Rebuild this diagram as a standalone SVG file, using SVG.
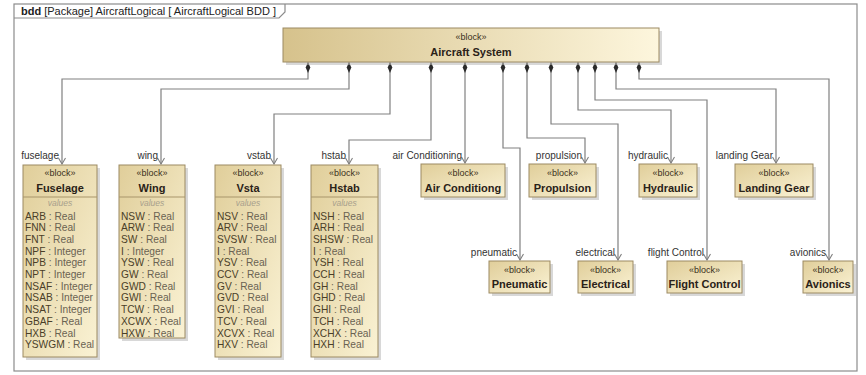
<svg xmlns="http://www.w3.org/2000/svg" width="866" height="375" viewBox="0 0 866 375">
<defs>
<linearGradient id="gTop" x1="0" y1="0" x2="1" y2="0">
<stop offset="0" stop-color="#d6c28c"/>
<stop offset="1" stop-color="#fdf6dd"/>
</linearGradient>
<linearGradient id="gBox" x1="0" y1="0" x2="1" y2="1">
<stop offset="0" stop-color="#e0ce9a"/>
<stop offset="1" stop-color="#faf2d4"/>
</linearGradient>
<marker id="dia" viewBox="-1 -3 13 6" refX="0" refY="0" markerWidth="13" markerHeight="6" markerUnits="userSpaceOnUse" orient="auto">
<path d="M0,0 L5.5,-2.3 L11,0 L5.5,2.3 z" fill="#2a2a2a"/>
</marker>
<marker id="arr" viewBox="-8 -5 9 10" refX="0" refY="0" markerWidth="9" markerHeight="10" markerUnits="userSpaceOnUse" orient="auto">
<path d="M-6,-3.5 L0,0 L-6,3.5" fill="none" stroke="#808080" stroke-width="1.1"/>
</marker>
</defs>
<style>
text{font-family:"Liberation Sans",Arial,sans-serif;}
.frame{fill:none;stroke:#8c8c8c;stroke-width:1.2;}
.title{font-size:11px;fill:#222;}
.box{fill:url(#gBox);stroke:#9c8a62;stroke-width:1;}
.top{fill:url(#gTop);stroke:#9c8a62;stroke-width:1;}
.sh{fill:#b8b8b8;opacity:0.55;}
.sep{stroke:#a8956a;stroke-width:1;}
.st{font-size:9px;fill:#3a3020;text-anchor:middle;}
.nm{font-size:11px;font-weight:bold;fill:#2a2218;text-anchor:middle;}
.vl{font-size:8.5px;fill:#a8a08c;font-style:italic;text-anchor:middle;}
.at{font-size:10.2px;fill:#6a6252;}
.an{fill:#4a3e28;}
.role{font-size:10px;fill:#333;text-anchor:end;}
.con{fill:none;stroke:#808080;stroke-width:1.2;marker-start:url(#dia);marker-end:url(#arr);}
</style>

<g id="frame">
<rect class="frame" x="14" y="4" width="843" height="367"/>
<path class="frame" d="M14,18 H279 L285,12 V4"/>
<text class="title" x="21" y="15"><tspan font-weight="bold">bdd</tspan> [Package] AircraftLogical [ AircraftLogical BDD ]</text>
</g>

<g id="connectors">
<path class="con" d="M308,62 V79 H62 V164"/>
<path class="con" d="M349,62 V89 H161 V164"/>
<path class="con" d="M390,62 V114 H274 V164"/>
<path class="con" d="M431,62 V140 H349 V164"/>
<path class="con" d="M465,62 V163"/>
<path class="con" d="M503,62 V148 H520 V260"/>
<path class="con" d="M527,62 V138 H585 V163"/>
<path class="con" d="M551,62 V124 H618 V260"/>
<path class="con" d="M578,62 V110 H671 V163"/>
<path class="con" d="M595,62 V100 H707 V260"/>
<path class="con" d="M616,62 V89 H776 V163"/>
<path class="con" d="M639,62 V79 H829 V260"/>
<text class="role" x="59" y="159">fuselage</text>
<text class="role" x="158" y="159">wing</text>
<text class="role" x="271" y="159">vstab</text>
<text class="role" x="346" y="159">hstab</text>
<text class="role" x="462" y="159">air Conditioning</text>
<text class="role" x="582" y="159">propulsion</text>
<text class="role" x="668" y="159">hydraulic</text>
<text class="role" x="773" y="159">landing Gear</text>
<text class="role" x="517" y="256">pneumatic</text>
<text class="role" x="615" y="256">electrical</text>
<text class="role" x="704" y="256">flight Control</text>
<text class="role" x="826" y="256">avionics</text>
</g>

<g id="aircraft-system">
<rect class="sh" x="286" y="31" width="376" height="34"/>
<rect class="top" x="283" y="28" width="376" height="34"/>
<text class="st" x="471" y="40">«block»</text>
<text class="nm" x="471" y="56">Aircraft System</text>
</g>

<g id="fuselage">
<rect class="sh" x="26" y="168" width="74" height="192"/>
<rect class="box" x="23" y="165" width="74" height="192"/>
<line class="sep" x1="23" y1="197" x2="97" y2="197"/>
<text class="st" x="60" y="176">«block»</text>
<text class="nm" x="60" y="192">Fuselage</text>
<text class="vl" x="60" y="206">values</text>
<text class="at" x="25" y="219.5"><tspan class="an">ARB</tspan> : Real</text>
<text class="at" x="25" y="231.2"><tspan class="an">FNN</tspan> : Real</text>
<text class="at" x="25" y="242.9"><tspan class="an">FNT</tspan> : Real</text>
<text class="at" x="25" y="254.6"><tspan class="an">NPF</tspan> : Integer</text>
<text class="at" x="25" y="266.3"><tspan class="an">NPB</tspan> : Integer</text>
<text class="at" x="25" y="278"><tspan class="an">NPT</tspan> : Integer</text>
<text class="at" x="25" y="289.7"><tspan class="an">NSAF</tspan> : Integer</text>
<text class="at" x="25" y="301.4"><tspan class="an">NSAB</tspan> : Integer</text>
<text class="at" x="25" y="313.1"><tspan class="an">NSAT</tspan> : Integer</text>
<text class="at" x="25" y="324.8"><tspan class="an">GBAF</tspan> : Real</text>
<text class="at" x="25" y="336.5"><tspan class="an">HXB</tspan> : Real</text>
<text class="at" x="25" y="348.2"><tspan class="an">YSWGM</tspan> : Real</text>
</g>

<g id="wing">
<rect class="sh" x="122" y="168" width="66" height="173"/>
<rect class="box" x="119" y="165" width="66" height="173"/>
<line class="sep" x1="119" y1="197" x2="185" y2="197"/>
<text class="st" x="152" y="176">«block»</text>
<text class="nm" x="152" y="192">Wing</text>
<text class="vl" x="152" y="206">values</text>
<text class="at" x="121" y="219.5"><tspan class="an">NSW</tspan> : Real</text>
<text class="at" x="121" y="231.2"><tspan class="an">ARW</tspan> : Real</text>
<text class="at" x="121" y="242.9"><tspan class="an">SW</tspan> : Real</text>
<text class="at" x="121" y="254.6"><tspan class="an">I</tspan> : Integer</text>
<text class="at" x="121" y="266.3"><tspan class="an">YSW</tspan> : Real</text>
<text class="at" x="121" y="278"><tspan class="an">GW</tspan> : Real</text>
<text class="at" x="121" y="289.7"><tspan class="an">GWD</tspan> : Real</text>
<text class="at" x="121" y="301.4"><tspan class="an">GWI</tspan> : Real</text>
<text class="at" x="121" y="313.1"><tspan class="an">TCW</tspan> : Real</text>
<text class="at" x="121" y="324.8"><tspan class="an">XCWX</tspan> : Real</text>
<text class="at" x="121" y="336.5"><tspan class="an">HXW</tspan> : Real</text>
</g>

<g id="vsta">
<rect class="sh" x="218" y="168" width="66" height="192"/>
<rect class="box" x="215" y="165" width="66" height="192"/>
<line class="sep" x1="215" y1="197" x2="281" y2="197"/>
<text class="st" x="248" y="176">«block»</text>
<text class="nm" x="248" y="192">Vsta</text>
<text class="vl" x="248" y="206">values</text>
<text class="at" x="217" y="219.5"><tspan class="an">NSV</tspan> : Real</text>
<text class="at" x="217" y="231.2"><tspan class="an">ARV</tspan> : Real</text>
<text class="at" x="217" y="242.9"><tspan class="an">SVSW</tspan> : Real</text>
<text class="at" x="217" y="254.6"><tspan class="an">I</tspan> : Real</text>
<text class="at" x="217" y="266.3"><tspan class="an">YSV</tspan> : Real</text>
<text class="at" x="217" y="278"><tspan class="an">CCV</tspan> : Real</text>
<text class="at" x="217" y="289.7"><tspan class="an">GV</tspan> : Real</text>
<text class="at" x="217" y="301.4"><tspan class="an">GVD</tspan> : Real</text>
<text class="at" x="217" y="313.1"><tspan class="an">GVI</tspan> : Real</text>
<text class="at" x="217" y="324.8"><tspan class="an">TCV</tspan> : Real</text>
<text class="at" x="217" y="336.5"><tspan class="an">XCVX</tspan> : Real</text>
<text class="at" x="217" y="348.2"><tspan class="an">HXV</tspan> : Real</text>
</g>

<g id="hstab">
<rect class="sh" x="314" y="168" width="67" height="192"/>
<rect class="box" x="311" y="165" width="67" height="192"/>
<line class="sep" x1="311" y1="197" x2="378" y2="197"/>
<text class="st" x="344.5" y="176">«block»</text>
<text class="nm" x="344.5" y="192">Hstab</text>
<text class="vl" x="344.5" y="206">values</text>
<text class="at" x="313" y="219.5"><tspan class="an">NSH</tspan> : Real</text>
<text class="at" x="313" y="231.2"><tspan class="an">ARH</tspan> : Real</text>
<text class="at" x="313" y="242.9"><tspan class="an">SHSW</tspan> : Real</text>
<text class="at" x="313" y="254.6"><tspan class="an">I</tspan> : Real</text>
<text class="at" x="313" y="266.3"><tspan class="an">YSH</tspan> : Real</text>
<text class="at" x="313" y="278"><tspan class="an">CCH</tspan> : Real</text>
<text class="at" x="313" y="289.7"><tspan class="an">GH</tspan> : Real</text>
<text class="at" x="313" y="301.4"><tspan class="an">GHD</tspan> : Real</text>
<text class="at" x="313" y="313.1"><tspan class="an">GHI</tspan> : Real</text>
<text class="at" x="313" y="324.8"><tspan class="an">TCH</tspan> : Real</text>
<text class="at" x="313" y="336.5"><tspan class="an">XCHX</tspan> : Real</text>
<text class="at" x="313" y="348.2"><tspan class="an">HXH</tspan> : Real</text>
</g>

<g id="air-conditiong">
<rect class="sh" x="424" y="167" width="84" height="33"/>
<rect class="box" x="421" y="164" width="84" height="33"/>
<text class="st" x="463" y="176">«block»</text>
<text class="nm" x="463" y="192">Air Conditiong</text>
</g>

<g id="propulsion">
<rect class="sh" x="532" y="167" width="67" height="33"/>
<rect class="box" x="529" y="164" width="67" height="33"/>
<text class="st" x="562.5" y="176">«block»</text>
<text class="nm" x="562.5" y="192">Propulsion</text>
</g>

<g id="hydraulic">
<rect class="sh" x="642" y="167" width="58" height="33"/>
<rect class="box" x="639" y="164" width="58" height="33"/>
<text class="st" x="668" y="176">«block»</text>
<text class="nm" x="668" y="192">Hydraulic</text>
</g>

<g id="landing-gear">
<rect class="sh" x="738" y="167" width="78" height="33"/>
<rect class="box" x="735" y="164" width="78" height="33"/>
<text class="st" x="774" y="176">«block»</text>
<text class="nm" x="774" y="192">Landing Gear</text>
</g>

<g id="pneumatic">
<rect class="sh" x="492" y="264" width="61" height="32"/>
<rect class="box" x="489" y="261" width="61" height="32"/>
<text class="st" x="519.5" y="273">«block»</text>
<text class="nm" x="519.5" y="288">Pneumatic</text>
</g>

<g id="electrical">
<rect class="sh" x="581" y="264" width="55" height="32"/>
<rect class="box" x="578" y="261" width="55" height="32"/>
<text class="st" x="605.5" y="273">«block»</text>
<text class="nm" x="605.5" y="288">Electrical</text>
</g>

<g id="flight-control">
<rect class="sh" x="670" y="264" width="75" height="32"/>
<rect class="box" x="667" y="261" width="75" height="32"/>
<text class="st" x="704.5" y="273">«block»</text>
<text class="nm" x="704.5" y="288">Flight Control</text>
</g>

<g id="avionics">
<rect class="sh" x="806" y="264" width="50" height="32"/>
<rect class="box" x="803" y="261" width="50" height="32"/>
<text class="st" x="828" y="273">«block»</text>
<text class="nm" x="828" y="288">Avionics</text>
</g>
</svg>
